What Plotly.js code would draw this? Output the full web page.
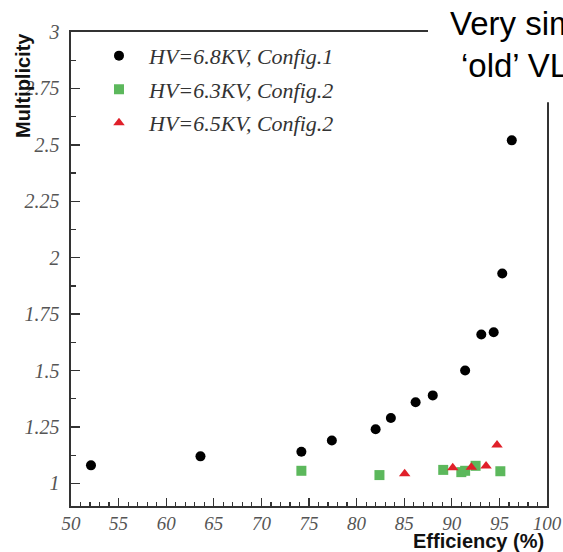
<!DOCTYPE html>
<html>
<head>
<meta charset="utf-8">
<script src="https://cdn.plot.ly/plotly-3.0.1.min.js"></script>
<style>
html,body{margin:0;padding:0;background:#fff;}
#chart{width:563px;height:552px;}
</style>
</head>
<body>
<div id="chart"></div>
<script>
// Data
const seriesNames = ["HV=6.8KV, Config.1", "HV=6.3KV, Config.2", "HV=6.5KV, Config.2"];

const eff1 = [52.1, 63.6, 74.2, 77.4, 82.0, 83.6, 86.2, 88.0, 91.4, 93.1, 94.4, 95.3, 96.3];
const mult1 = [1.08, 1.12, 1.14, 1.19, 1.24, 1.29, 1.36, 1.39, 1.50, 1.66, 1.67, 1.93, 2.52];

const eff2 = [74.2, 82.4, 89.1, 91.0, 91.4, 92.5, 95.1];
const mult2 = [1.056, 1.037, 1.06, 1.05, 1.056, 1.078, 1.054];

const eff3 = [85.05, 90.1, 92.05, 93.6, 94.75];
const mult3 = [1.043, 1.069, 1.072, 1.077, 1.17];

const xTickVals = [50, 55, 60, 65, 70, 75, 80, 85, 90, 95, 100];
const yTickVals = [1, 1.25, 1.5, 1.75, 2, 2.25, 2.5, 2.75, 3];
const yTickText = ["1", "1.25", "1.5", "1.75", "2", "2.25", "2.5", "2.75", "3"];

const xTitle = "Efficiency (%)";
const yTitle = "Multiplicity";
const noteLines = ["Very similar to", "\u2018old\u2019 VLSI"];

const tickFontY = {family: "Liberation Serif", size: 20, color: "#555555", style: "italic"};
const tickFontX = {family: "Liberation Serif", size: 19, color: "#555555", style: "italic"};

const traces = [
  {x: eff1, y: mult1, name: seriesNames[0], legendgroup: "a", type: "scatter", mode: "markers",
   marker: {symbol: "circle", size: 10, color: "#000000"}},
  {x: eff2, y: mult2, name: seriesNames[1], legendgroup: "b", type: "scatter", mode: "markers",
   marker: {symbol: "square", size: 10, color: "#5cb85c"}},
  {x: eff3, y: mult3, name: seriesNames[2], legendgroup: "c", type: "scatter", mode: "markers",
   marker: {symbol: "triangle-up", size: 10, color: "#e0202a"}}
];

const layout = {
  width: 563, height: 552,
  margin: {l: 71, r: 16, t: 32, b: 46, pad: 0},
  paper_bgcolor: "#ffffff", plot_bgcolor: "#ffffff",
  showlegend: true,
  legend: {
    x: 0.0378, y: 0.994, xanchor: "left", yanchor: "top",
    bgcolor: "rgba(0,0,0,0)", borderwidth: 0,
    font: {family: "Liberation Serif", size: 22, color: "#333333", style: "italic"},
    tracegroupgap: 2, itemwidth: 50, traceorder: "grouped"
  },
  xaxis: {
    range: [50, 100], tickmode: "array", tickvals: xTickVals,
    ticks: "inside", ticklen: 8, tickwidth: 1.3, tickcolor: "#333333",
    minor: {dtick: 1, tick0: 50, ticks: "inside", ticklen: 4, tickwidth: 1.2, tickcolor: "#333333", showgrid: false},
    showline: true, linecolor: "#333333", linewidth: 1.6, mirror: true,
    showgrid: false, zeroline: false, tickfont: tickFontX
  },
  yaxis: {
    range: [0.9, 3.0], tickmode: "array", tickvals: yTickVals, ticktext: yTickText,
    ticks: "inside", ticklen: 9, tickwidth: 1.3, tickcolor: "#333333",
    minor: {dtick: 0.125, tick0: 1, ticks: "inside", ticklen: 5, tickwidth: 1.2, tickcolor: "#333333", showgrid: false},
    showline: true, linecolor: "#333333", linewidth: 1.6, mirror: true,
    showgrid: false, zeroline: false, tickfont: tickFontY, ticklabelstandoff: 6
  },
  shapes: [
    {type: "rect", xref: "paper", yref: "paper", x0: 0.75, x1: 1.2, y0: 0.852, y1: 1.2,
     fillcolor: "#ffffff", line: {width: 0}, layer: "above"}
  ],
  annotations: [
    {text: yTitle, xref: "paper", yref: "paper", x: -0.101, y: 0.888, xanchor: "center", yanchor: "middle",
     textangle: -90, showarrow: false, font: {family: "Liberation Sans", size: 20, color: "#111111", weight: "bold"}},
    {text: xTitle, xref: "paper", yref: "paper", x: 0.857, y: -0.073, xanchor: "center", yanchor: "middle",
     showarrow: false, font: {family: "Liberation Sans", size: 20, color: "#111111", weight: "bold"}},
    {text: noteLines[0], xref: "paper", yref: "paper", x: 0.792, y: 1.017, xanchor: "left", yanchor: "middle",
     showarrow: false, font: {family: "Liberation Sans", size: 33, color: "#000000"}},
    {text: noteLines[1], xref: "paper", yref: "paper", x: 0.816, y: 0.930, xanchor: "left", yanchor: "middle",
     showarrow: false, font: {family: "Liberation Sans", size: 33, color: "#000000"}}
  ]
};

Plotly.newPlot("chart", traces, layout, {displayModeBar: false, staticPlot: true});
</script>
</body>
</html>
